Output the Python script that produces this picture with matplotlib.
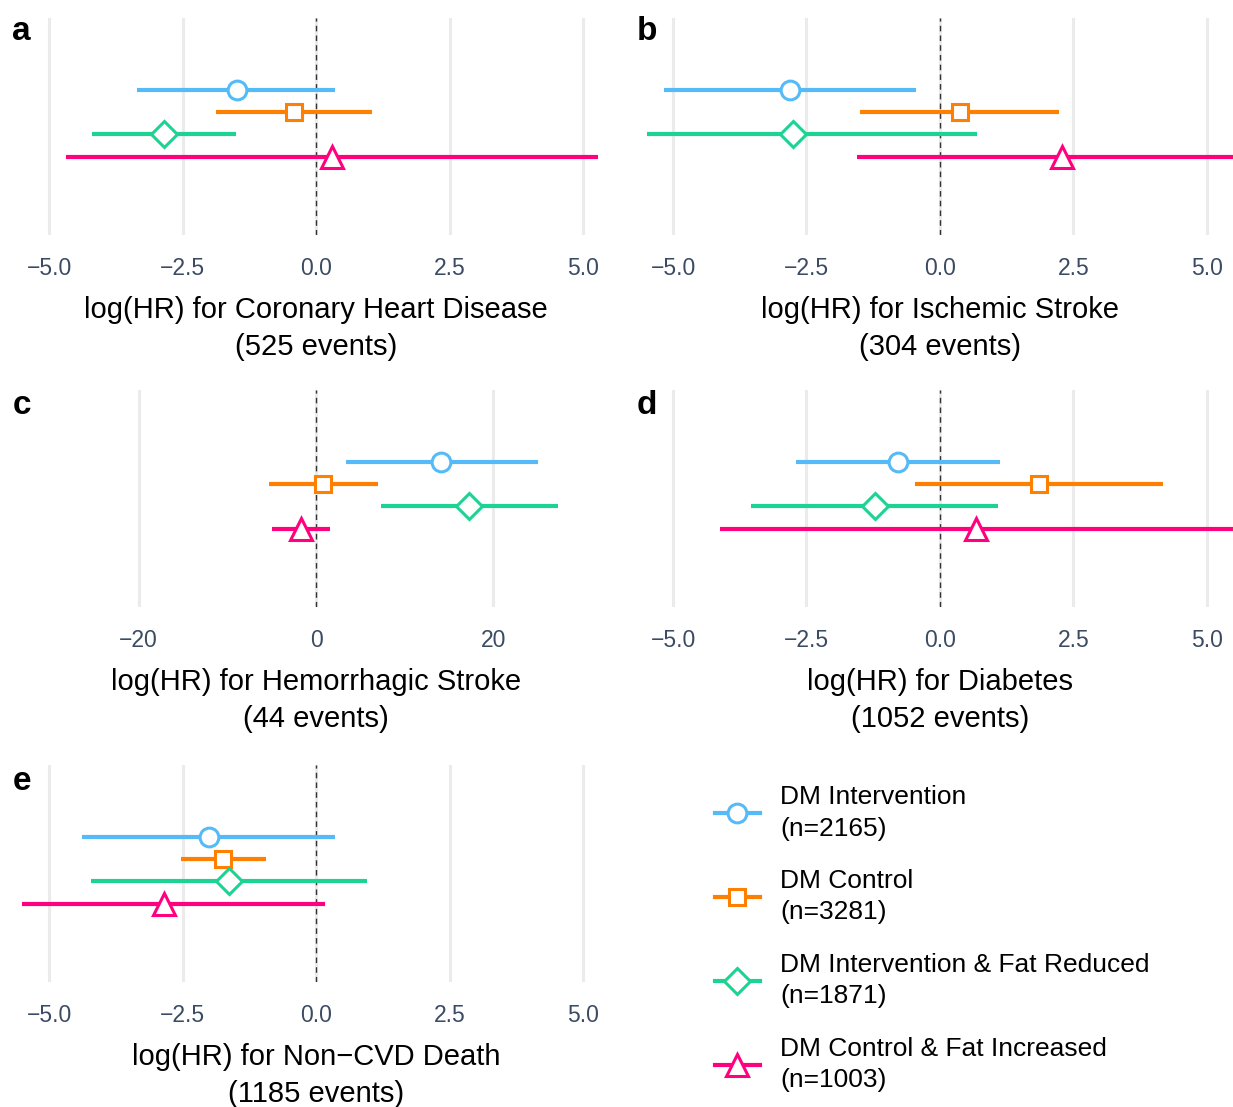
import numpy as np
import matplotlib
matplotlib.use("Agg")
import matplotlib.pyplot as plt
from matplotlib.lines import Line2D

plt.rcParams['font.family'] = ['Liberation Sans', 'DejaVu Sans']

groups = ["DM Intervention\n(n=2165)", "DM Control\n(n=3281)",
          "DM Intervention & Fat Reduced\n(n=1871)", "DM Control & Fat Increased\n(n=1003)"]
colors = ["#55BBF8", "#FF7F00", "#1DD394", "#FF007F"]
markers = ["o", "s", "D", "^"]
msizes = [13.5, 12, 13, 16]

panels = ["a", "b", "c", "d", "e"]
outcomes = ["Coronary Heart Disease", "Ischemic Stroke", "Hemorrhagic Stroke",
            "Diabetes", "Non\u2212CVD Death"]
events = [525, 304, 44, 1052, 1185]

# log(HR) estimate, lower, upper per group for each panel
est_a = [-1.48, -0.41, -2.85, 0.30]
lo_a = [-3.35, -1.87, -4.19, -4.68]
hi_a = [0.36, 1.05, -1.50, 5.28]

est_b = [-2.81, 0.37, -2.75, 2.28]
lo_b = [-5.17, -1.50, -5.49, -1.55]
hi_b = [-0.45, 2.23, 0.69, 6.8]

est_c = [14.1, 0.8, 17.2, -1.7]
lo_c = [3.4, -5.3, 7.3, -5.0]
hi_c = [25.0, 7.0, 27.3, 1.6]

est_d = [-0.79, 1.85, -1.22, 0.67]
lo_d = [-2.70, -0.47, -3.54, -4.12]
hi_d = [1.12, 4.18, 1.09, 6.5]

est_e = [-2.00, -1.74, -1.63, -2.85]
lo_e = [-4.38, -2.53, -4.21, -5.8]
hi_e = [0.36, -0.94, 0.96, 0.17]

ests = [est_a, est_b, est_c, est_d, est_e]
los = [lo_a, lo_b, lo_c, lo_d, lo_e]
his = [hi_a, hi_b, hi_c, hi_d, hi_e]

ticks_std = [-5.0, -2.5, 0.0, 2.5, 5.0]
ticks_c = [-20, 0, 20]
xlims = [(-5.5, 5.5), (-5.5, 5.5), (-33.1, 33.1), (-5.5, 5.5), (-5.5, 5.5)]

W, H = 1233, 1107
fig = plt.figure(figsize=(W / 100, H / 100), dpi=100)

lefts = [22.3, 646.3, 22.3, 646.3, 22.3]
tops = [18, 18, 390, 390, 765]
letter_y = [32, 32, 406, 406, 781]
aw, ah = 587.4, 217

ypos = [3, 2, 1, 0]
tick_col = "#3B4B63"

for i in range(5):
    ax = fig.add_axes([lefts[i] / W, 1 - (tops[i] + ah) / H, aw / W, ah / H])
    ax.set_xlim(*xlims[i])
    ax.set_ylim(-3.5, 6.2)
    ticks = ticks_c if i == 2 else ticks_std
    ax.set_xticks(ticks)
    if i == 2:
        ax.set_xticklabels([("\u2212" if t < 0 else "") + str(abs(t)) for t in ticks])
    else:
        ax.set_xticklabels([("\u2212" if t < 0 else "") + f"{abs(t):.1f}" for t in ticks])
    ax.set_yticks([])
    ax.grid(axis="x", color="#EBEBEB", lw=2.2)
    ax.set_axisbelow(True)
    for s in ax.spines.values():
        s.set_visible(False)
    ax.tick_params(axis="x", length=0, pad=15.5, labelsize=16.5, labelcolor=tick_col)
    ax.axvline(0, color="#333333", lw=1.0, ls=(0, (4, 3)), zorder=2)
    for g in range(4):
        ax.plot([los[i][g], his[i][g]], [ypos[g], ypos[g]], color=colors[g], lw=3, zorder=3,
                solid_capstyle="butt")
        ax.plot(ests[i][g], ypos[g], marker=markers[g], ms=msizes[g], mfc="white",
                mec=colors[g], mew=2.2, zorder=4, ls="none")
    ax.set_xlabel(f"log(HR) for {outcomes[i]}\n({events[i]} events)", fontsize=21,
                  labelpad=12, linespacing=1.38)
    fig.text((lefts[i] - 10) / W, 1 - letter_y[i] / H, panels[i],
             fontsize=24, fontweight="bold", va="center", ha="left")

handles = [Line2D([0], [0], color=colors[g], lw=3, marker=markers[g], ms=msizes[g],
                  mfc="white", mec=colors[g], mew=2.2) for g in range(4)]
leg = fig.legend(handles, groups, loc="upper left", bbox_to_anchor=(715 / W, 1 - 785 / H),
                 frameon=False, fontsize=19, handlelength=1.7, handletextpad=0.76,
                 labelspacing=1.07, borderpad=0, borderaxespad=0)
for t in leg.get_texts():
    t.set_linespacing(1.4)

fig.savefig("out.png", dpi=100)
